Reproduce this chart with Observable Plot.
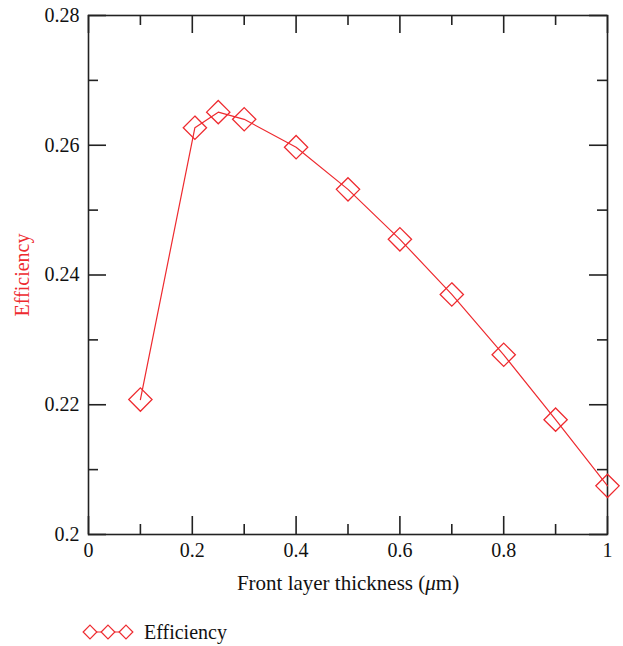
<!DOCTYPE html>
<html>
<head>
<meta charset="utf-8">
<script src="https://cdn.jsdelivr.net/npm/d3@7"></script>
<script src="https://cdn.jsdelivr.net/npm/@observablehq/plot@0.6"></script>
<style>
  body { margin: 0; background: #fff; font-family: "Liberation Serif", "DejaVu Serif", serif; }
  #chart svg { display: block; }
  #legend { position: relative; height: 46px; }
</style>
</head>
<body>
<div id="chart"></div>
<div id="legend"></div>
<script>
// Data
const thickness = [0.1, 0.205, 0.25, 0.3, 0.4, 0.5, 0.6, 0.7, 0.8, 0.9, 1.0];
const efficiency = [0.2208, 0.2627, 0.2651, 0.2640, 0.2597, 0.2532, 0.2455, 0.2370, 0.2277, 0.2177, 0.2075];
const xMajorTicks = [0, 0.2, 0.4, 0.6, 0.8, 1];
const xMinorTicks = [0.1, 0.3, 0.5, 0.7, 0.9];
const yMajorTicks = [0.2, 0.22, 0.24, 0.26, 0.28];
const yMinorTicks = [0.21, 0.23, 0.25, 0.27];
const xTickLabels = ["0", "0.2", "0.4", "0.6", "0.8", "1"];
const yTickLabels = ["0.2", "0.22", "0.24", "0.26", "0.28"];
const seriesName = "Efficiency";
const xTitle = "Front layer thickness (μm)";

const data = thickness.map((x, i) => ({x, y: efficiency[i]}));
const RED = "#ee2a2f";
const AX = "#222";
const FONT = "Liberation Serif, DejaVu Serif, serif";

const W = 623, H = 600;
const mL = 88, mR = 16, mT = 15, mB = 66;
const plotW = W - mL - mR, plotH = H - mT - mB;
const majorLen = 18, minorLen = 10;
const SW = 1.6;

const chart = Plot.plot({
  width: W, height: H,
  marginLeft: mL, marginRight: mR, marginTop: mT, marginBottom: mB,
  style: {fontFamily: FONT, fontSize: "20px", color: AX, background: "#fff"},
  x: {domain: [0, 1]},
  y: {domain: [0.2, 0.28]},
  marks: [
    Plot.frame({stroke: AX, strokeWidth: SW}),
    // bottom ticks
    Plot.ruleX(xMajorTicks, {x: d => d, insetTop: plotH - majorLen, stroke: AX, strokeWidth: SW}),
    Plot.ruleX(xMinorTicks, {x: d => d, insetTop: plotH - minorLen, stroke: AX, strokeWidth: SW}),
    // top ticks
    Plot.ruleX(xMajorTicks, {x: d => d, insetBottom: plotH - majorLen, stroke: AX, strokeWidth: SW}),
    Plot.ruleX(xMinorTicks, {x: d => d, insetBottom: plotH - minorLen, stroke: AX, strokeWidth: SW}),
    // left ticks
    Plot.ruleY(yMajorTicks, {y: d => d, insetRight: plotW - majorLen, stroke: AX, strokeWidth: SW}),
    Plot.ruleY(yMinorTicks, {y: d => d, insetRight: plotW - minorLen, stroke: AX, strokeWidth: SW}),
    // right ticks
    Plot.ruleY(yMajorTicks, {y: d => d, insetLeft: plotW - majorLen, stroke: AX, strokeWidth: SW}),
    Plot.ruleY(yMinorTicks, {y: d => d, insetLeft: plotW - minorLen, stroke: AX, strokeWidth: SW}),
    Plot.axisX({ticks: xMajorTicks, tickSize: 0, tickPadding: 8, tickFormat: (d, i) => xTickLabels[i],
      label: xTitle, labelAnchor: "center", labelArrow: "none", labelOffset: 55, fill: "#111"}),
    Plot.axisY({ticks: yMajorTicks, tickSize: 0, tickPadding: 9, tickFormat: (d, i) => yTickLabels[i],
      label: null, fill: "#111"}),
    Plot.axisY({ticks: [], label: seriesName, labelAnchor: "center", labelArrow: "none", labelOffset: 74, fill: RED}),
    Plot.line(data, {x: "x", y: "y", stroke: RED, strokeWidth: 1.2}),
    Plot.dot(data, {x: "x", y: "y", symbol: "diamond2", r: 10.5, stroke: RED, strokeWidth: 1.3, fill: "none"})
  ]
});
document.getElementById("chart").appendChild(chart);

// font sizes + italic mu in x label
d3.select(chart).selectAll("text").each(function() {
  const t = d3.select(this);
  t.style("font-size", "20px").style("font-family", FONT);
  if (t.text() === xTitle) {
    t.style("font-size", "21px");
    t.text(null);
    t.append("tspan").text("Front layer thickness (");
    t.append("tspan").attr("font-style", "italic").text("μ");
    t.append("tspan").text("m)");
  }
  if (t.text() === seriesName) t.style("font-size", "20px");
});

// Legend
const leg = d3.select("#legend").append("svg").attr("width", W).attr("height", 46);
const ly = 32;
leg.append("line").attr("x1", 85).attr("x2", 132).attr("y1", ly).attr("y2", ly)
  .attr("stroke", RED).attr("stroke-width", 1.2);
const sym = d3.symbol(d3.symbolDiamond2, 120);
[90, 108, 126].forEach(cx => {
  leg.append("path").attr("d", sym()).attr("transform", `translate(${cx},${ly})`)
    .attr("fill", "#fff").attr("stroke", RED).attr("stroke-width", 1.2);
});
leg.append("text").attr("x", 144).attr("y", ly).attr("dy", "0.35em")
  .attr("font-family", FONT).attr("font-size", 20).attr("fill", "#111")
  .text(seriesName);
</script>
</body>
</html>
